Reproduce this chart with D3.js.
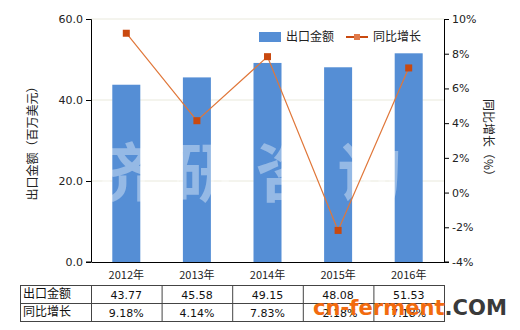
<!DOCTYPE html>
<html lang="zh">
  <head>
    <meta charset="utf-8">
    <title>出口金额</title>
    <script src="https://d3js.org/d3.v7.js"></script>
    <style>
      body { margin: 0; background: #fff; }
      text { font-family: "Noto Sans CJK SC", "DejaVu Sans", sans-serif; }
    </style>
  </head>
  <body>
  <script>

var years = ["2012年", "2013年", "2014年", "2015年", "2016年"];
var amounts = [43.77, 45.58, 49.15, 48.08, 51.53];
var growth = [9.18, 4.14, 7.83, -2.18, 7.18];
var leftTicks = [0, 20, 40, 60];
var rightTicks = [-4, -2, 0, 2, 4, 6, 8, 10];

var w = 520, h = 330;
var margin = {top: 19, left: 91, right: 76, bottom: 68};
var plotW = w - margin.left - margin.right;   // 353
var plotH = h - margin.top - margin.bottom;   // 243

var svg = d3.select("body").append("svg")
    .attr("width", w)
    .attr("height", h);

var x = d3.scaleBand()
    .domain(years)
    .range([0, plotW])
    .paddingInner(0.6)
    .paddingOuter(0.3);

var y = d3.scaleLinear().domain([0, 60]).range([plotH, 0]);
var y2 = d3.scaleLinear().domain([-4, 10]).range([plotH, 0]);

var g = svg.append("g")
    .attr("transform", `translate(${margin.left},${margin.top})`);

// grid lines
g.selectAll(".grid")
    .data(leftTicks.filter(d => d > 0))
  .enter().append("line")
    .attr("x1", 0).attr("x2", plotW)
    .attr("y1", d => y(d)).attr("y2", d => y(d))
    .attr("stroke", "#e9e9dc")
    .attr("stroke-width", 1);

// bars
var bw = 28;
g.selectAll(".bar")
    .data(amounts)
  .enter().append("rect")
    .attr("x", (d, i) => x(years[i]) + x.bandwidth() / 2 - bw / 2)
    .attr("y", d => y(d))
    .attr("width", bw)
    .attr("height", d => plotH - y(d))
    .attr("fill", "#558ed5");

// watermark
g.append("text")
    .attr("x", plotW / 2 - 12)
    .attr("y", 177)
    .attr("text-anchor", "middle")
    .attr("font-size", 64)
    .attr("font-weight", "bold")
    .attr("letter-spacing", 18)
    .attr("fill", "#fff")
    .attr("fill-opacity", 0.38)
    .text("济研咨询");

// line
var cx = (d, i) => x(years[i]) + x.bandwidth() / 2;
var line = d3.line()
    .x(cx)
    .y(d => y2(d));

g.append("path")
    .datum(growth)
    .attr("d", line)
    .attr("fill", "none")
    .attr("stroke", "#e0773a")
    .attr("stroke-width", 1.2);

g.selectAll(".pt")
    .data(growth)
  .enter().append("rect")
    .attr("x", (d, i) => cx(d, i) - 3.5)
    .attr("y", d => y2(d) - 3.5)
    .attr("width", 7)
    .attr("height", 7)
    .attr("fill", "#c9490f");

// axes
var yAxis = d3.axisLeft(y).tickValues(leftTicks).tickFormat(d3.format(".1f")).tickSize(5);
var y2Axis = d3.axisRight(y2).tickValues(rightTicks).tickFormat(d => d + "%").tickSize(5);
var xAxis = d3.axisBottom(x).tickSize(0);

function styleAxis(sel) {
  sel.select(".domain").attr("stroke", "#000");
  sel.selectAll(".tick line").attr("stroke", "#000");
  sel.selectAll("text").attr("font-size", 11).attr("fill", "#222")
     .style("font-family", "'DejaVu Sans', sans-serif");
}

g.append("g").call(yAxis).call(styleAxis)
  .call(s => s.select(".domain").attr("d", `M-5,0.5H0.5V${plotH}H-5`));
g.append("g").attr("transform", `translate(${plotW},0)`).call(y2Axis).call(styleAxis)
  .call(s => s.select(".domain").attr("d", `M5,0.5H0.5V${plotH}H5`));
g.append("g").attr("transform", `translate(0,${plotH})`).call(xAxis).call(styleAxis)
  .call(s => s.selectAll("text").attr("dy", "1.3em").style("font-family", null));

// axis titles
svg.append("text")
    .attr("transform", `translate(37,${margin.top + plotH / 2}) rotate(-90)`)
    .attr("text-anchor", "middle")
    .attr("font-size", 12)
    .attr("fill", "#222")
    .text("出口金额（百万美元）");

svg.append("text")
    .attr("transform", `translate(484,${margin.top + plotH / 2}) rotate(90)`)
    .attr("text-anchor", "middle")
    .attr("font-size", 12)
    .attr("fill", "#222")
    .text("同比增长（%）");

// legend
var leg = svg.append("g");
leg.append("rect").attr("x", 259).attr("y", 32).attr("width", 22).attr("height", 10).attr("fill", "#558ed5");
leg.append("text").attr("x", 286).attr("y", 41).attr("font-size", 12).attr("fill", "#222").text("出口金额");
leg.append("line").attr("x1", 346).attr("x2", 368).attr("y1", 37).attr("y2", 37)
    .attr("stroke", "#c9490f").attr("stroke-width", 2);
leg.append("rect").attr("x", 354).attr("y", 34).attr("width", 6).attr("height", 6).attr("fill", "#e07a4a");
leg.append("text").attr("x", 373).attr("y", 41).attr("font-size", 12).attr("fill", "#222").text("同比增长");

// data table
var tTop = 285, rowH = 18, firstColL = 20;
var rows = [
  {label: "出口金额", values: amounts.map(d => d.toFixed(2))},
  {label: "同比增长", values: growth.map(d => d.toFixed(2) + "%")}
];
var table = svg.append("g");
var tRight = margin.left + plotW;
table.append("rect")
    .attr("x", firstColL + 0.5).attr("y", tTop + 0.5)
    .attr("width", tRight - firstColL).attr("height", rowH * 2)
    .attr("fill", "none").attr("stroke", "#444");
table.append("line")
    .attr("x1", firstColL).attr("x2", tRight + 0.5)
    .attr("y1", tTop + rowH + 0.5).attr("y2", tTop + rowH + 0.5)
    .attr("stroke", "#444");
table.selectAll(".col")
    .data(years)
  .enter().append("line")
    .attr("x1", d => margin.left + x(d) - x.step() * x.paddingInner() / 2 + 0.5)
    .attr("x2", d => margin.left + x(d) - x.step() * x.paddingInner() / 2 + 0.5)
    .attr("y1", tTop).attr("y2", tTop + rowH * 2)
    .attr("stroke", "#444");

rows.forEach(function(r, ri) {
  table.append("text")
      .attr("x", firstColL + 3)
      .attr("y", tTop + rowH * ri + 13)
      .attr("font-size", 12)
      .attr("fill", "#111")
      .text(r.label);
  table.selectAll(".v" + ri)
      .data(r.values)
    .enter().append("text")
      .attr("x", (d, i) => margin.left + x(years[i]) + x.bandwidth() / 2)
      .attr("y", tTop + rowH * ri + 14)
      .attr("text-anchor", "middle")
      .attr("font-size", 11)
      .attr("fill", "#111")
      .style("font-family", "'DejaVu Sans', sans-serif")
      .text(d => d);
});

// site logo (sits over the table, as in the original)
var logo = svg.append("text")
    .attr("x", 313)
    .attr("y", 315)
    .attr("font-size", 21)
    .attr("font-weight", "bold")
    .attr("textLength", 194)
    .attr("lengthAdjust", "spacingAndGlyphs")
    .style("font-family", "'DejaVu Sans', sans-serif");
logo.append("tspan").attr("fill", "#f26b0f").text("cn-ferment");
logo.append("tspan").attr("fill", "#3a3a3a").text(".COM");

  </script>
  </body>
</html>
